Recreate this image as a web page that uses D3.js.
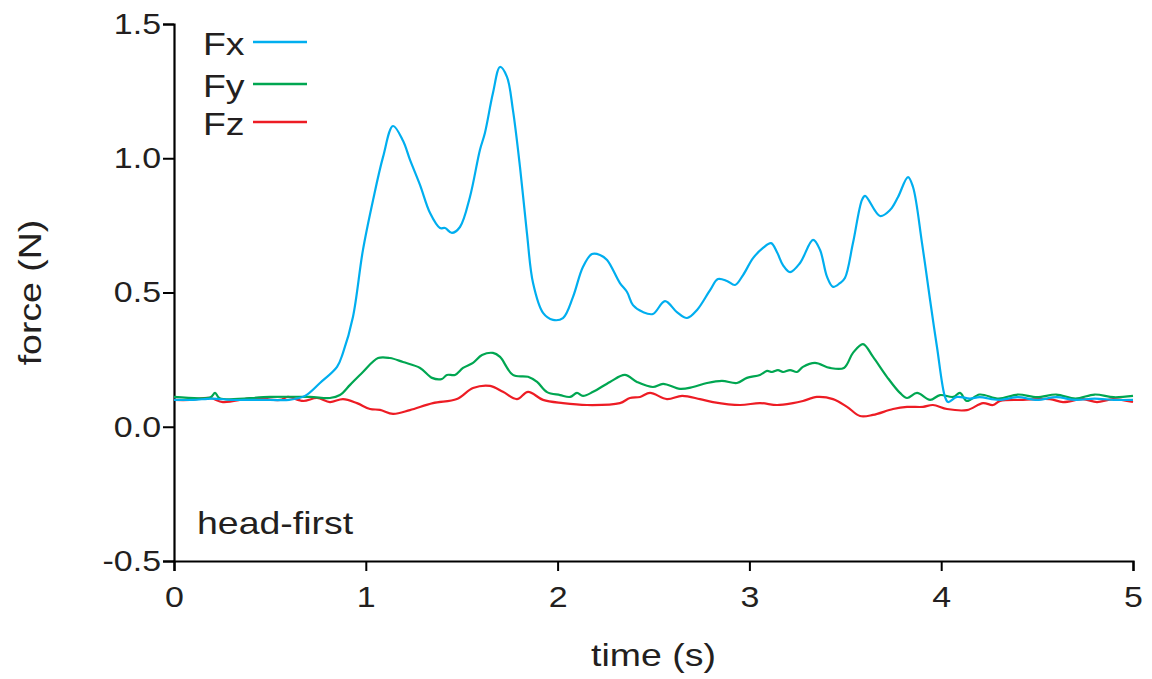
<!DOCTYPE html>
<html>
<head>
<meta charset="utf-8">
<script src="https://cdn.jsdelivr.net/npm/d3@7"></script>
<style>
  html, body { margin: 0; padding: 0; background: #fff; }
  svg text { font-family: "Liberation Sans", Arial, sans-serif; fill: #231f20; }
</style>
</head>
<body>
<div id="chart"></div>
<script>
  // Series (time in s, force in N)
  var fxTime = [0, 0.1, 0.2, 0.3, 0.4, 0.5, 0.6, 0.683, 0.761, 0.850, 0.881, 0.933, 0.985, 1.038, 1.090, 1.142,
    1.194, 1.230, 1.283, 1.335, 1.387, 1.413, 1.449, 1.491, 1.543, 1.595, 1.621, 1.663, 1.700, 1.736, 1.767,
    1.804, 1.840, 1.872, 1.924, 1.976, 2.028, 2.080, 2.132, 2.179, 2.221, 2.258, 2.325, 2.362, 2.393, 2.445,
    2.497, 2.560, 2.622, 2.675, 2.727, 2.795, 2.836, 2.883, 2.925, 2.967, 3.019, 3.071, 3.113, 3.144, 3.175,
    3.212, 3.264, 3.332, 3.368, 3.405, 3.436, 3.472, 3.498, 3.540, 3.587, 3.603, 3.681, 3.733, 3.775, 3.827,
    3.853, 3.900, 3.942, 3.978, 4.020, 4.036, 4.082, 4.15, 4.2, 4.3, 4.4, 4.5, 4.6, 4.7, 4.8, 4.9, 5.0];
  var fxValue = [0.10, 0.10, 0.105, 0.10, 0.10, 0.10, 0.10, 0.115, 0.163, 0.223, 0.275, 0.409, 0.658, 0.845, 1.005, 1.120,
    1.065, 0.995, 0.900, 0.796, 0.740, 0.740, 0.722, 0.744, 0.856, 1.031, 1.094, 1.243, 1.340, 1.303, 1.180,
    0.967, 0.722, 0.535, 0.424, 0.398, 0.405, 0.483, 0.595, 0.643, 0.640, 0.621, 0.535, 0.502, 0.453, 0.427,
    0.420, 0.468, 0.427, 0.405, 0.435, 0.509, 0.550, 0.543, 0.528, 0.565, 0.628, 0.666, 0.684, 0.650, 0.602,
    0.576, 0.610, 0.696, 0.659, 0.558, 0.521, 0.535, 0.554, 0.684, 0.845, 0.860, 0.785, 0.807, 0.856, 0.930,
    0.893, 0.684, 0.472, 0.297, 0.111, 0.092, 0.111, 0.105, 0.11, 0.10, 0.11, 0.10, 0.11, 0.10, 0.105, 0.10, 0.10];

  var fyTime = [0, 0.19, 0.214, 0.238, 0.500, 0.709, 0.813, 0.865, 0.918, 0.985, 1.064, 1.126, 1.194, 1.283, 1.345, 1.397,
    1.423, 1.465, 1.507, 1.559, 1.606, 1.663, 1.700, 1.767, 1.846, 1.893, 1.945, 2.013, 2.065, 2.101, 2.132,
    2.185, 2.273, 2.351, 2.414, 2.497, 2.550, 2.638, 2.706, 2.779, 2.857, 2.935, 2.987, 3.055, 3.092, 3.118,
    3.149, 3.175, 3.212, 3.248, 3.279, 3.342, 3.420, 3.493, 3.540, 3.592, 3.644, 3.717, 3.785, 3.822, 3.874,
    3.942, 3.994, 4.062, 4.098, 4.134, 4.2, 4.3, 4.4, 4.5, 4.6, 4.7, 4.8, 4.9, 5.0];
  var fyValue = [0.111, 0.110, 0.126, 0.106, 0.111, 0.111, 0.107, 0.118, 0.156, 0.204, 0.256, 0.256, 0.241, 0.219, 0.182, 0.178,
    0.193, 0.193, 0.219, 0.238, 0.267, 0.275, 0.260, 0.193, 0.186, 0.167, 0.129, 0.118, 0.111, 0.126, 0.115,
    0.130, 0.167, 0.193, 0.167, 0.148, 0.160, 0.141, 0.148, 0.163, 0.171, 0.163, 0.182, 0.193, 0.208, 0.204,
    0.211, 0.204, 0.211, 0.204, 0.223, 0.238, 0.219, 0.219, 0.275, 0.308, 0.261, 0.186, 0.126, 0.107, 0.126,
    0.100, 0.118, 0.111, 0.126, 0.096, 0.12, 0.105, 0.12, 0.11, 0.12, 0.105, 0.12, 0.11, 0.115];

  var fzTime = [0, 0.083, 0.188, 0.255, 0.412, 0.553, 0.594, 0.673, 0.746, 0.813, 0.881, 0.954, 1.022, 1.074, 1.142,
    1.230, 1.350, 1.475, 1.559, 1.648, 1.715, 1.788, 1.846, 1.924, 2.028, 2.153, 2.325, 2.377, 2.430, 2.482,
    2.570, 2.649, 2.742, 2.810, 2.951, 3.055, 3.144, 3.227, 3.279, 3.352, 3.436, 3.509, 3.577, 3.644, 3.749,
    3.822, 3.905, 3.957, 4.030, 4.134, 4.218, 4.270, 4.307, 4.426, 4.567, 4.635, 4.739, 4.812, 4.896, 5.0];
  var fzValue = [0.100, 0.100, 0.107, 0.092, 0.107, 0.100, 0.111, 0.096, 0.107, 0.092, 0.103, 0.088, 0.066, 0.063, 0.048,
    0.062, 0.088, 0.103, 0.144, 0.152, 0.130, 0.103, 0.130, 0.100, 0.088, 0.081, 0.088, 0.107, 0.111, 0.126,
    0.103, 0.115, 0.103, 0.092, 0.081, 0.088, 0.081, 0.088, 0.096, 0.111, 0.103, 0.074, 0.040, 0.044, 0.066,
    0.074, 0.074, 0.081, 0.066, 0.062, 0.088, 0.081, 0.096, 0.100, 0.103, 0.092, 0.103, 0.092, 0.103, 0.092];

  var seriesNames = ["Fx", "Fy", "Fz"];
  var seriesColors = ["#00aeef", "#00a651", "#ed1c24"];
  var xTicks = [0, 1, 2, 3, 4, 5];
  var yTicks = [-0.5, 0.0, 0.5, 1.0, 1.5];

  var width = 1152, height = 679;
  var margin = { top: 24, right: 19, bottom: 118, left: 174 };
  var widen = 1.17; // the original lettering is a bit wider than Arial

  var svg = d3.select("#chart").append("svg")
              .attr("width", width)
              .attr("height", height);

  var xScale = d3.scaleLinear().domain([0, 5]).range([margin.left, width - margin.right]);
  var yScale = d3.scaleLinear().domain([-0.5, 1.5]).range([height - margin.bottom, margin.top]);

  // stretch text horizontally to match the reference lettering
  function stretch(sel) {
    sel.each(function() {
      var w = this.getComputedTextLength();
      d3.select(this).attr("textLength", w * widen).attr("lengthAdjust", "spacingAndGlyphs");
    });
  }

  // Axes
  var xAxis = d3.axisBottom(xScale).tickValues(xTicks).tickSize(10).tickPadding(15)
                .tickFormat(function(d) { return String(d); });
  var yAxis = d3.axisLeft(yScale).tickValues(yTicks).tickSize(11).tickPadding(2)
                .tickFormat(function(d) { return d.toFixed(1); });  // plain hyphen for -0.5

  var gx = svg.append("g")
      .attr("transform", "translate(0," + yScale(-0.5) + ")")
      .call(xAxis);
  var gy = svg.append("g")
      .attr("transform", "translate(" + margin.left + ",0)")
      .call(yAxis);

  [gx, gy].forEach(function(g) {
    g.selectAll(".domain").attr("stroke", "#000").attr("stroke-width", 2.2);
    g.selectAll(".tick line").attr("stroke", "#000").attr("stroke-width", 2);
    g.selectAll(".tick text")
     .style("font-family", "'Liberation Sans', Arial, sans-serif")
     .style("font-size", "29px")
     .attr("fill", "#231f20")
     .call(stretch);
  });

  // Axis titles
  svg.append("text")
     .attr("x", xScale(2.5))
     .attr("y", 666)
     .attr("text-anchor", "middle")
     .style("font-size", "32px")
     .text("time (s)")
     .call(stretch);

  svg.append("text")
     .attr("transform", "translate(41," + yScale(0.5) + ") rotate(-90)")
     .attr("text-anchor", "middle")
     .style("font-size", "32px")
     .text("force (N)")
     .call(stretch);

  // Lines
  var line = d3.line()
               .x(function(d) { return xScale(d[0]); })
               .y(function(d) { return yScale(d[1]); })
               .curve(d3.curveCatmullRom.alpha(0.5));

  var series = [
    d3.zip(fxTime, fxValue),
    d3.zip(fyTime, fyValue),
    d3.zip(fzTime, fzValue)
  ];

  // draw Fz first so Fx sits on top
  [2, 1, 0].forEach(function(i) {
    svg.append("path")
       .datum(series[i])
       .attr("fill", "none")
       .attr("stroke", seriesColors[i])
       .attr("stroke-width", 2.2)
       .attr("stroke-linejoin", "round")
       .attr("d", line);
  });

  // Legend
  var legendY = [42, 84, 122];
  seriesNames.forEach(function(name, i) {
    svg.append("text")
       .attr("x", 203)
       .attr("y", legendY[i] + 12.5)
       .style("font-size", "32px")
       .text(name)
       .call(stretch);
    svg.append("line")
       .attr("x1", 253).attr("x2", 307)
       .attr("y1", legendY[i]).attr("y2", legendY[i])
       .attr("stroke", seriesColors[i])
       .attr("stroke-width", 2.5);
  });

  // Condition label
  svg.append("text")
     .attr("x", 197)
     .attr("y", 534)
     .style("font-size", "32px")
     .text("head-first")
     .call(stretch);
</script>
</body>
</html>
